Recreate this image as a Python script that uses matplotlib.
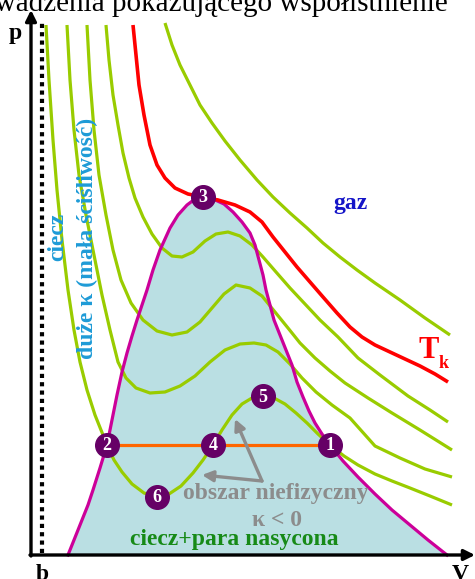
import numpy as np
import matplotlib.pyplot as plt

# binodal (saturation) curve, left branch up to the critical point, then right branch
bin_V = [37, 45, 51, 57, 62, 69, 76, 81, 86, 91, 96, 101, 106, 116, 122, 129, 139, 147, 156, 164, 172,
         182, 193, 202, 211, 219, 224, 228, 232, 235, 239, 243, 249, 255, 261, 266, 272, 278, 284, 291,
         299, 312, 327, 344, 361, 379, 397, 416]
bin_p = [0, 20, 35, 50, 65, 87, 110, 135, 160, 183, 202, 219, 235, 265, 285, 305, 327, 340, 350, 356, 358,
         356, 351, 343, 333, 322, 310, 295, 280, 265, 250, 235, 220, 205, 190, 173, 158, 144, 132, 121,
         110, 94, 78, 61, 45, 30, 15, 0]

# isotherms below the critical one (van der Waals loops)
g1_V = [15, 18, 22, 26, 31, 37, 43, 49, 56, 64, 70, 76, 83, 91, 101, 113, 126, 138, 150, 162, 172, 182,
        191, 201, 211, 221, 232, 243, 254, 265, 276, 287, 299, 313, 327, 344, 361, 379, 399, 421]
g1_p = [530, 475, 415, 365, 315, 265, 225, 193, 165, 140, 125, 110, 95, 83, 71, 62, 58, 61, 69, 82, 95, 110,
        125, 140, 151, 157, 159, 157, 151, 142, 132, 121, 110, 99, 90, 81, 74, 67, 59, 50]

g2_V = [36, 39, 43, 48, 55, 63, 71, 79, 87, 95, 105, 119, 134, 149, 164, 179, 194, 209, 223, 235, 247,
        259, 271, 285, 301, 319, 344, 369, 394, 421]
g2_p = [530, 475, 425, 380, 340, 300, 260, 225, 193, 177, 167, 162, 163, 169, 179, 193, 205, 211, 212, 210,
        203, 191, 177, 163, 150, 137, 109, 97, 86, 78]

g3_V = [56, 59, 63, 68, 75, 82, 90, 100, 112, 126, 141, 156, 169, 181, 193, 205, 219, 231, 244, 257,
        269, 284, 299, 314, 337, 361, 389, 421]
g3_p = [530, 475, 425, 380, 340, 305, 275, 252, 235, 224, 220, 223, 233, 247, 261, 270, 267, 259, 243, 227,
        212, 197, 184, 172, 157, 142, 125, 105]

g4_V = [75, 78, 82, 87, 92, 98, 104, 112, 121, 131, 141, 151, 162, 174, 185, 197, 209, 221, 232, 245,
        259, 274, 289, 307, 327, 349, 377, 399, 417]
g4_p = [530, 495, 460, 430, 402, 377, 357, 338, 321, 307, 299, 298, 303, 314, 321, 323, 319, 310, 298, 283,
        267, 251, 235, 218, 197, 180, 159, 145, 133]

# critical isotherm T_k
tk_V = [102, 105, 108, 113, 119, 126, 134, 144, 157, 172, 187, 204, 219, 231, 242, 254, 266, 279, 292, 306,
        319, 331, 344, 359, 374, 389, 404, 417]
tk_p = [530, 500, 470, 440, 410, 390, 377, 367, 361, 358, 355, 350, 343, 333, 318, 303, 288, 273, 258, 242,
        228, 218, 210, 203, 196, 189, 181, 173]

# isotherm above T_k
g5_V = [134, 141, 149, 159, 169, 181, 194, 209, 226, 242, 259, 276, 292, 309, 326, 344, 369, 394, 419]
g5_p = [532, 510, 490, 470, 450, 432, 414, 395, 375, 358, 342, 327, 312, 298, 285, 272, 255, 237, 220]

# characteristic states on the lowest isotherm
pt_labels = ['1', '2', '3', '4', '5', '6']
pt_V = [299, 76, 172, 182, 232, 126]
pt_p = [110, 110, 358, 110, 159, 58]

GREEN = '#99cc00'
serif = 'Liberation Serif'

fig = plt.figure(figsize=(4.75, 5.79), dpi=100)
ax = fig.add_axes([0, 0, 1, 1])
ax.set_xlim(-31, 444)
ax.set_ylim(-24, 555)
ax.axis('off')

# two-phase region
ax.fill(bin_V + [bin_V[0]], bin_p + [bin_p[0]], color='#badfe3', lw=0, zorder=1)

for V, p in [(g1_V, g1_p), (g2_V, g2_p), (g3_V, g3_p), (g4_V, g4_p), (g5_V, g5_p)]:
    ax.plot(V, p, color=GREEN, lw=2.3, solid_capstyle='butt', zorder=2)
ax.plot(bin_V, bin_p, color='#cc0099', lw=2.3, zorder=3)
ax.plot(tk_V, tk_p, color='#ff0000', lw=2.6, solid_capstyle='butt', zorder=4)

# tie line 2-1
ax.plot([pt_V[1], pt_V[0]], [pt_p[1], pt_p[0]], color='#ff6600', lw=2.3, zorder=5)

ax.plot(pt_V, pt_p, 'o', ms=17, color='#660066', zorder=6)
for lab, V, p in zip(pt_labels, pt_V, pt_p):
    ax.text(V, p - 1, lab, color='white', fontsize=13, fontweight='bold', family=serif,
            ha='center', va='center', zorder=7)

# axes with arrows
ax.annotate('', xy=(0, 545), xytext=(0, -1),
            arrowprops=dict(arrowstyle='-|>', lw=2.4, color='black', mutation_scale=16, shrinkA=0, shrinkB=0))
ax.annotate('', xy=(444, 0), xytext=(-1, 0),
            arrowprops=dict(arrowstyle='-|>', lw=2.4, color='black', mutation_scale=16, shrinkA=0, shrinkB=0))
ax.plot([11, 11], [2, 533], color='black', lw=3, linestyle=(0, (1, 1)), zorder=8)

lab_kw = dict(fontweight='bold', family=serif)
ax.text(-16, 522, 'p', fontsize=17, ha='center', va='center', **lab_kw)
ax.text(11, -19, 'b', fontsize=17, ha='center', va='center', **lab_kw)
ax.text(429, -19, 'V', fontsize=17, ha='center', va='center', **lab_kw)

ax.text(319, 352, 'gaz', color='#1414c8', fontsize=17, ha='center', va='center', **lab_kw)
ax.text(398, 205, 'T', color='#ff0000', fontsize=22, ha='center', va='center', **lab_kw)
ax.text(413, 192, 'k', color='#ff0000', fontsize=13, ha='center', va='center', **lab_kw)
ax.text(27, 318, 'ciecz', color='#1e9bd7', fontsize=17, rotation=90, ha='center', va='center', **lab_kw)
ax.text(56, 317, 'duże κ (mała ściśliwość)', color='#1e9bd7', fontsize=17, rotation=90,
        ha='center', va='center', **lab_kw)
ax.text(245, 61, 'obszar niefizyczny', color='#8c8c8c', fontsize=17, ha='center', va='center', zorder=6, **lab_kw)
ax.text(246, 34, 'κ < 0', color='#8c8c8c', fontsize=17, ha='center', va='center', zorder=6, **lab_kw)
ax.text(203, 16, 'ciecz+para nasycona', color='#178a17', fontsize=17, ha='center', va='center', zorder=6, **lab_kw)

# arrows pointing at the unstable part of the loop
for head in [(204, 136), (171, 80)]:
    ax.annotate('', xy=head, xytext=(231, 74),
                arrowprops=dict(arrowstyle='-|>', lw=2.4, color='#8c8c8c', mutation_scale=16,
                                shrinkA=0, shrinkB=0), zorder=6)

ax.text(-75, 544, 'prowadzenia pokazującego współistnienie', fontsize=21, family=serif,
        ha='left', va='baseline')

fig.savefig('out.png', dpi=100)
